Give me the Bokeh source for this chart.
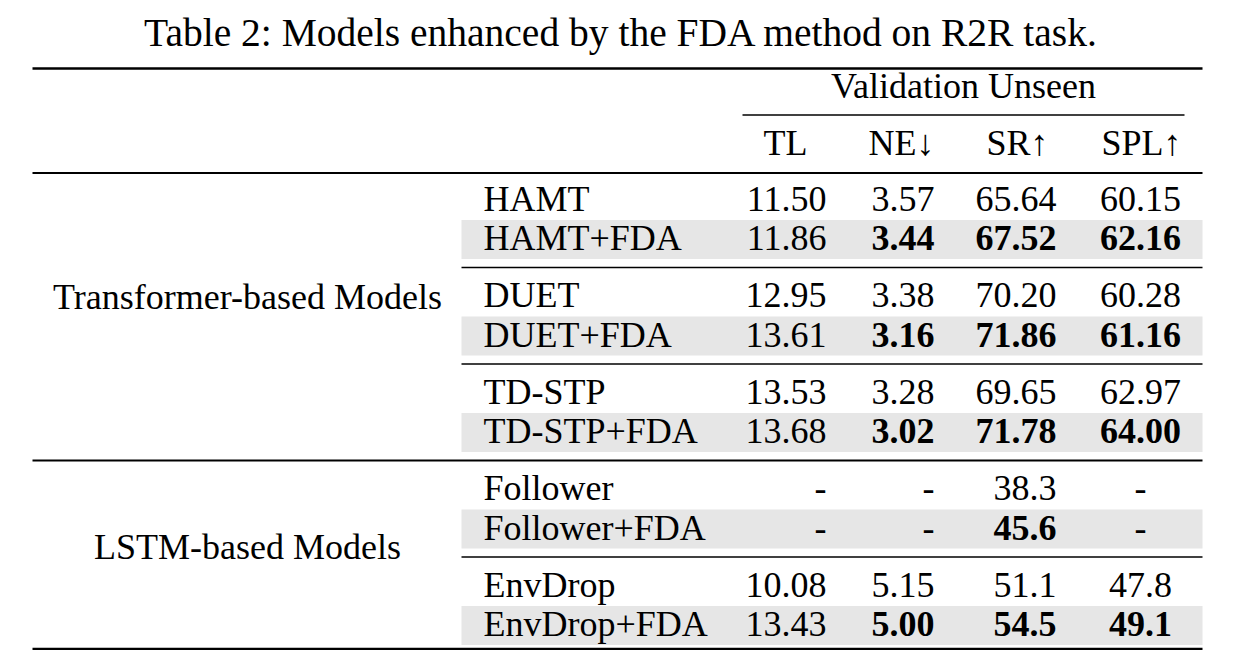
from bokeh.plotting import figure
from bokeh.models import Range1d
from bokeh.embed import file_html
from bokeh.resources import INLINE
from bokeh.core.properties import value

# ---------------- data ----------------
title_text = "Table 2: Models enhanced by the FDA method on R2R task."
span_header = "Validation Unseen"
metrics = ["TL", "NE↓", "SR↑", "SPL↑"]
groups = ["Transformer-based Models", "LSTM-based Models"]
group_sizes = [3, 2]  # number of model pairs in each group
models = ["HAMT", "HAMT+FDA", "DUET", "DUET+FDA", "TD-STP", "TD-STP+FDA",
          "Follower", "Follower+FDA", "EnvDrop", "EnvDrop+FDA"]
tl = ["11.50", "11.86", "12.95", "13.61", "13.53", "13.68", "-", "-", "10.08", "13.43"]
ne = ["3.57", "3.44", "3.38", "3.16", "3.28", "3.02", "-", "-", "5.15", "5.00"]
sr = ["65.64", "67.52", "70.20", "71.86", "69.65", "71.78", "38.3", "45.6", "51.1", "54.5"]
spl = ["60.15", "62.16", "60.28", "61.16", "62.97", "64.00", "-", "-", "47.8", "49.1"]

# ---------------- layout / style ----------------
FONT = value("Liberation Serif")
FS = 36
BODY = f"{FS}px"
TFS = 39.5
W, H = 1226, 650
L, R = 32, 1202
ROW0, PITCH, SUB = 210.0, 96.5, 39.5
NAME_X = 483
col_anchor = [826, 934, 1056, 1140]
col_align = ["right", "right", "right", "center"]
head_x = [785, 901, 1017, 1141]
SHIFT = 0.33  # baseline correction (fraction of font size)
TSHIFT = 0.39

p = figure(width=W, height=H, x_range=Range1d(0, W), y_range=Range1d(H, 0),
           output_backend="svg", toolbar_location=None, min_border=0,
           x_axis_location=None, y_axis_location=None)
p.grid.visible = False
p.outline_line_color = None
p.background_fill_color = "white"
p.border_fill_color = "white"

def row_y(k):
    return ROW0 + PITCH * (k // 2) + SUB * (k % 2)

def ty(y, fs=FS, s=SHIFT):
    return y - s * fs

# shaded rows
bx0, bx1, bt, bb = [], [], [], []
for k in range(len(models)):
    if k % 2 == 1:
        y = row_y(k)
        bx0.append(461); bx1.append(R); bt.append(y - 30); bb.append(y + 9)
p.quad(left=bx0, right=bx1, top=bt, bottom=bb, fill_color="#e6e6e6", line_color=None)

# title
p.text(x=[621], y=[ty(48, TFS, TSHIFT)], text=[title_text], text_font=FONT,
       text_font_size=f"{TFS}px", text_align="center", text_baseline="alphabetic",
       text_color="black")

# rules
n_pairs = len(models) // 2
sep = [row_y(2 * g + 1) + 17.5 for g in range(n_pairs - 1)]
bottom_y = row_y(len(models) - 1) + 13
group_ends = []
acc = 0
for s in group_sizes:
    acc += s
    group_ends.append(acc)
full_y = [68, bottom_y]
mid_y = [172.5] + [sep[e - 1] for e in group_ends[:-1]]
part_y = [sep[g] for g in range(n_pairs - 1) if (g + 1) not in group_ends]
p.segment(x0=[L] * 2, x1=[R] * 2, y0=full_y, y1=full_y, line_color="black", line_width=2.5)
p.segment(x0=[L] * len(mid_y), x1=[R] * len(mid_y), y0=mid_y, y1=mid_y,
          line_color="black", line_width=1.8)
p.segment(x0=[461] * len(part_y), x1=[R] * len(part_y), y0=part_y, y1=part_y,
          line_color="black", line_width=1.5)
p.segment(x0=[742], x1=[1184], y0=[114.5], y1=[114.5], line_color="black", line_width=1.5)

# headers
p.text(x=[963], y=[ty(97)], text=[span_header], text_font=FONT, text_font_size=BODY,
       text_align="center", text_baseline="alphabetic", text_color="black")
p.text(x=head_x, y=[ty(154)] * len(metrics), text=metrics, text_font=FONT,
       text_font_size=BODY, text_align="center", text_baseline="alphabetic",
       text_color="black")

# group labels (multirow-style placement)
start = 0
gy = []
for s in group_sizes:
    first = row_y(2 * start)
    gy.append(ty(first + (2 * s - 1) * SUB / 2))
    start += s
p.text(x=[247] * len(groups), y=gy, text=groups, text_font=FONT, text_font_size=BODY,
       text_align="center", text_baseline="alphabetic", text_color="black")

# model names
p.text(x=[NAME_X] * len(models), y=[ty(row_y(k)) for k in range(len(models))], text=models,
       text_font=FONT, text_font_size=BODY, text_align="left", text_baseline="alphabetic",
       text_color="black")

# values
for ci, col in enumerate([tl, ne, sr, spl]):
    nx, ny, nt, bx, by, btx = [], [], [], [], [], []
    for k, v in enumerate(col):
        is_bold = (k % 2 == 1) and ci > 0 and v != "-"
        if is_bold:
            bx.append(col_anchor[ci]); by.append(ty(row_y(k))); btx.append(v)
        else:
            nx.append(col_anchor[ci]); ny.append(ty(row_y(k))); nt.append(v)
    p.text(x=nx, y=ny, text=nt, text_font=FONT, text_font_size=BODY,
           text_align=col_align[ci], text_baseline="alphabetic", text_color="black")
    if bx:
        p.text(x=bx, y=by, text=btx, text_font=FONT, text_font_size=BODY,
               text_font_style="bold", text_align=col_align[ci],
               text_baseline="alphabetic", text_color="black")

open("out.html", "w").write(file_html(p, INLINE))
